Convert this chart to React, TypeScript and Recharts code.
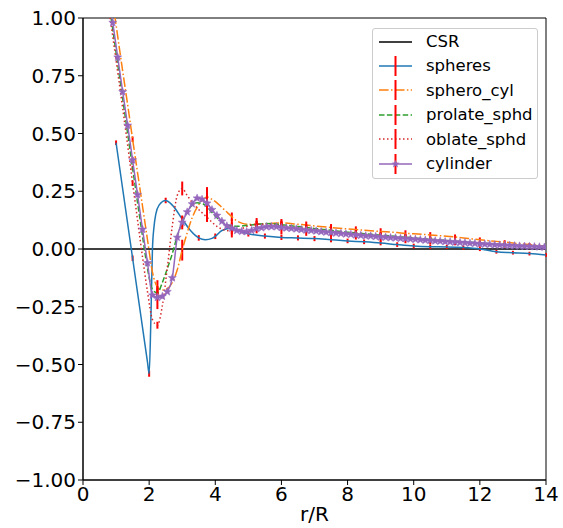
import React from "react";
import { LineChart, Line, XAxis, YAxis, ErrorBar, ReferenceArea } from "recharts";

const X_TICKS = [0, 2, 4, 6, 8, 10, 12, 14];
const Y_TICKS = [-1, -0.75, -0.5, -0.25, 0, 0.25, 0.5, 0.75, 1];

const CSR_R = [0, 14];
const CSR_V = [0, 0];

const SPHERES_R = [1.0, 1.5, 1.95, 2.0, 2.05, 2.1, 2.15, 2.2, 2.3, 2.5, 2.7, 3.0, 3.25, 3.5, 3.7, 3.9, 4.0, 4.2, 4.5, 4.75, 5.0, 5.5, 6.0, 6.5, 7.0, 7.5, 8.0, 8.5, 9.0, 9.5, 10.0, 10.5, 11.0, 11.5, 12.0, 12.5, 13.0, 13.5, 14.0];
const SPHERES_V = [0.46, -0.04, -0.49, -0.54, -0.32, 0.0, 0.1, 0.15, 0.19, 0.21, 0.19, 0.13, 0.08, 0.048, 0.04, 0.046, 0.055, 0.08, 0.09, 0.076, 0.066, 0.056, 0.05, 0.048, 0.045, 0.04, 0.035, 0.031, 0.026, 0.019, 0.013, 0.01, 0.009, 0.006, 0.0, -0.012, -0.016, -0.02, -0.026];
const SPHERES_ERR_R = [1.0, 1.5, 2.0, 2.5, 3.0, 3.5, 4.0, 4.5, 5.0, 5.5, 6.0, 6.5, 7.0, 7.5, 8.0, 8.5, 9.0, 9.5, 10.0, 10.5, 11.0, 11.5, 12.0, 12.5, 13.0, 13.5, 14.0];
const SPHERES_ERR = [0.01, 0.012, 0.013, 0.012, 0.012, 0.012, 0.012, 0.012, 0.012, 0.011, 0.011, 0.011, 0.011, 0.011, 0.01, 0.01, 0.01, 0.01, 0.01, 0.01, 0.009, 0.009, 0.009, 0.008, 0.008, 0.008, 0.008];

// error bars of the shaped-particle series (none shown at 0.75, it sits above the frame)
const ERR_R = [1.5, 2.25, 3.0, 3.75, 4.5, 5.25, 6.0, 6.75, 7.5, 8.25, 9.0, 9.75, 10.5, 11.25, 12.0, 12.75, 13.5];

const SPHCYL_R = [0.75, 0.9, 1.05, 1.2, 1.35, 1.5, 1.65, 1.8, 1.95, 2.1, 2.25, 2.4, 2.55, 2.7, 2.85, 3.0, 3.15, 3.3, 3.45, 3.6, 3.75, 3.9, 4.05, 4.2, 4.35, 4.5, 4.65, 4.8, 5.0, 5.25, 5.5, 5.75, 6.0, 6.5, 6.75, 7.0, 7.5, 8.0, 8.25, 8.5, 9.0, 9.5, 9.75, 10.0, 10.5, 11.0, 11.25, 11.5, 12.0, 12.5, 12.75, 13.0, 13.5, 13.95];
const SPHCYL_V = [1.22, 1.07, 0.92, 0.77, 0.625, 0.475, 0.33, 0.185, 0.04, -0.1, -0.165, -0.178, -0.172, -0.145, -0.09, -0.005, 0.07, 0.135, 0.18, 0.21, 0.225, 0.215, 0.2, 0.18, 0.16, 0.14, 0.122, 0.112, 0.107, 0.106, 0.109, 0.112, 0.113, 0.107, 0.104, 0.1, 0.093, 0.087, 0.084, 0.081, 0.076, 0.071, 0.068, 0.066, 0.061, 0.055, 0.052, 0.048, 0.04, 0.033, 0.03, 0.026, 0.019, 0.013];
const SPHCYL_ERR = [0.012, 0.03, 0.045, 0.03, 0.018, 0.028, 0.017, 0.015, 0.015, 0.014, 0.014, 0.013, 0.012, 0.011, 0.01, 0.008, 0.007];

const PROLATE_R = [0.75, 0.9, 1.05, 1.2, 1.35, 1.5, 1.65, 1.8, 1.95, 2.1, 2.25, 2.4, 2.55, 2.7, 2.85, 3.0, 3.15, 3.3, 3.45, 3.6, 3.75, 3.9, 4.05, 4.2, 4.35, 4.5, 4.75, 5.0, 5.25, 5.5, 5.75, 6.0, 6.5, 6.75, 7.0, 7.5, 8.0, 8.25, 8.5, 9.0, 9.5, 9.75, 10.0, 10.5, 11.0, 11.25, 11.5, 12.0, 12.5, 12.75, 13.0, 13.5, 13.95];
const PROLATE_V = [1.1, 0.95, 0.8, 0.65, 0.5, 0.35, 0.2, 0.055, -0.085, -0.175, -0.19, -0.145, -0.085, -0.02, 0.055, 0.115, 0.16, 0.19, 0.2, 0.197, 0.182, 0.158, 0.135, 0.117, 0.105, 0.099, 0.099, 0.103, 0.107, 0.11, 0.109, 0.105, 0.097, 0.093, 0.089, 0.081, 0.073, 0.07, 0.066, 0.06, 0.054, 0.051, 0.048, 0.042, 0.037, 0.034, 0.031, 0.026, 0.021, 0.019, 0.017, 0.013, 0.01];
const PROLATE_ERR = [0.01, 0.02, 0.02, 0.02, 0.015, 0.015, 0.015, 0.013, 0.012, 0.012, 0.011, 0.011, 0.01, 0.009, 0.008, 0.007, 0.006];

const OBLATE_R = [0.75, 0.9, 1.05, 1.2, 1.35, 1.5, 1.65, 1.8, 1.95, 2.1, 2.25, 2.4, 2.55, 2.7, 2.85, 3.0, 3.15, 3.3, 3.45, 3.6, 3.75, 3.9, 4.05, 4.2, 4.35, 4.5, 4.75, 5.0, 5.25, 5.5, 5.75, 6.0, 6.5, 6.75, 7.0, 7.5, 8.0, 8.25, 8.5, 9.0, 9.5, 9.75, 10.0, 10.5, 11.0, 11.25, 11.5, 12.0, 12.5, 12.75, 13.0, 13.5, 13.95];
const OBLATE_V = [1.07, 0.92, 0.765, 0.61, 0.45, 0.285, 0.125, -0.035, -0.185, -0.305, -0.33, -0.245, -0.08, 0.1, 0.232, 0.262, 0.232, 0.202, 0.178, 0.157, 0.137, 0.116, 0.098, 0.086, 0.08, 0.078, 0.085, 0.1, 0.107, 0.107, 0.104, 0.1, 0.092, 0.088, 0.084, 0.076, 0.069, 0.066, 0.062, 0.056, 0.05, 0.047, 0.044, 0.039, 0.034, 0.031, 0.029, 0.024, 0.019, 0.017, 0.015, 0.012, 0.009];
const OBLATE_ERR = [0.012, 0.015, 0.03, 0.02, 0.015, 0.015, 0.015, 0.013, 0.012, 0.012, 0.011, 0.011, 0.01, 0.009, 0.008, 0.007, 0.006];

const CYL_R = [0.75, 0.9, 1.05, 1.2, 1.35, 1.5, 1.65, 1.8, 1.95, 2.1, 2.25, 2.4, 2.55, 2.7, 2.85, 3.0, 3.15, 3.3, 3.45, 3.6, 3.75, 3.9, 4.05, 4.2, 4.35, 4.5, 4.65, 4.8, 4.95, 5.1, 5.25, 5.4, 5.55, 5.7, 5.85, 6.0, 6.15, 6.3, 6.45, 6.6, 6.75, 6.9, 7.05, 7.2, 7.35, 7.5, 7.65, 7.8, 7.95, 8.1, 8.25, 8.4, 8.55, 8.7, 8.85, 9.0, 9.15, 9.3, 9.45, 9.6, 9.75, 9.9, 10.05, 10.2, 10.35, 10.5, 10.65, 10.8, 10.95, 11.1, 11.25, 11.4, 11.55, 11.7, 11.85, 12.0, 12.15, 12.3, 12.45, 12.6, 12.75, 12.9, 13.05, 13.2, 13.35, 13.5, 13.65, 13.8, 13.95];
const CYL_V = [1.13, 0.98, 0.83, 0.68, 0.535, 0.385, 0.235, 0.085, -0.06, -0.2, -0.21, -0.205, -0.185, -0.125, 0.05, 0.115, 0.16, 0.195, 0.22, 0.215, 0.198, 0.17, 0.145, 0.12, 0.1, 0.09, 0.08, 0.076, 0.075, 0.08, 0.088, 0.092, 0.096, 0.097, 0.096, 0.093, 0.091, 0.089, 0.087, 0.084, 0.082, 0.08, 0.078, 0.075, 0.073, 0.071, 0.069, 0.067, 0.065, 0.063, 0.061, 0.059, 0.057, 0.056, 0.054, 0.052, 0.051, 0.049, 0.048, 0.046, 0.045, 0.043, 0.042, 0.04, 0.038, 0.037, 0.035, 0.034, 0.032, 0.031, 0.03, 0.028, 0.027, 0.025, 0.024, 0.022, 0.021, 0.02, 0.018, 0.017, 0.016, 0.015, 0.014, 0.013, 0.012, 0.011, 0.01, 0.009, 0.008];
const CYL_ERR = [0.012, 0.05, 0.03, 0.07, 0.04, 0.02, 0.03, 0.025, 0.022, 0.02, 0.02, 0.02, 0.016, 0.014, 0.012, 0.01, 0.008];

const BLUE = "#1f77b4";
const ORANGE = "#ff7f0e";
const GREEN = "#2ca02c";
const RED = "#d62728";
const PURPLE = "#9467bd";
const BAR = "#ff0000";

function table(rs: number[], vs: number[], errR?: number[], errs?: number[]) {
  return rs.map((r, i) => {
    const k = errR ? errR.indexOf(r) : -1;
    return { r, v: vs[i], e: k >= 0 && errs ? errs[k] : undefined };
  });
}

const csrData = table(CSR_R, CSR_V);
const spheresData = table(SPHERES_R, SPHERES_V, SPHERES_ERR_R, SPHERES_ERR);
const sphcylData = table(SPHCYL_R, SPHCYL_V, ERR_R, SPHCYL_ERR);
const prolateData = table(PROLATE_R, PROLATE_V, ERR_R, PROLATE_ERR);
const oblateData = table(OBLATE_R, OBLATE_V, ERR_R, OBLATE_ERR);
const cylData = table(CYL_R, CYL_V, ERR_R, CYL_ERR);

const FONT = "'DejaVu Sans', sans-serif";

function starPoints(cx: number, cy: number, ro: number, ri: number) {
  const pts: string[] = [];
  for (let i = 0; i < 10; i++) {
    const rad = i % 2 === 0 ? ro : ri;
    const a = -Math.PI / 2 + (i * Math.PI) / 5;
    pts.push(`${cx + rad * Math.cos(a)},${cy + rad * Math.sin(a)}`);
  }
  return pts.join(" ");
}

const StarDot = (props: any) => {
  const { cx, cy, index } = props;
  if (cx == null || cy == null) return null;
  return <polygon key={`star-${index}`} points={starPoints(cx, cy, 4.2, 1.8)} fill={PURPLE} stroke={PURPLE} strokeWidth={0.5} />;
};

const LEGEND = [
  { name: "CSR", color: "#000", dash: undefined as string | undefined, bar: false, star: false, width: 1.5 },
  { name: "spheres", color: BLUE, dash: undefined, bar: true, star: false, width: 1.5 },
  { name: "sphero_cyl", color: ORANGE, dash: "9.6 2.4 1.5 2.4", bar: true, star: false, width: 1.5 },
  { name: "prolate_sphd", color: GREEN, dash: "5.5 2.4", bar: true, star: false, width: 1.5 },
  { name: "oblate_sphd", color: RED, dash: "1.5 2.5", bar: true, star: false, width: 1.5 },
  { name: "cylinder", color: PURPLE, dash: undefined, bar: true, star: true, width: 1.5 },
];

function LegendBox() {
  return (
    <div
      style={{
        position: "absolute",
        left: 372,
        top: 28,
        width: 166,
        height: 151,
        border: "1px solid #cccccc",
        borderRadius: 3,
        background: "rgba(255,255,255,0.8)",
        fontFamily: FONT,
        fontSize: 16.5,
        boxSizing: "border-box",
      }}
    >
      {LEGEND.map((item, i) => (
        <div key={item.name} style={{ position: "absolute", left: 0, top: 0.5 + i * 24.4, height: 24, width: 166, display: "flex", alignItems: "center" }}>
          <svg width={50} height={24} style={{ flex: "none" }}>
            <line x1={6} y1={12} x2={39} y2={12} stroke={item.color} strokeWidth={item.width} strokeDasharray={item.dash} />
            {item.bar && <line x1={22.5} y1={2} x2={22.5} y2={22} stroke={BAR} strokeWidth={2} />}
            {item.star && <polygon points={starPoints(22.5, 12, 4.2, 1.8)} fill={PURPLE} />}
          </svg>
          <span style={{ marginLeft: 3, color: "#000" }}>{item.name}</span>
        </div>
      ))}
    </div>
  );
}

const fmtY = (v: number) => v.toFixed(2).replace("-", "\u2212");

export default function App() {
  return (
    <div style={{ position: "absolute", left: 0, top: 0, width: 563, height: 528, background: "#fff" }}>
      <LineChart width={563} height={528} margin={{ top: 18, right: 17, bottom: 0, left: 0 }}>
        <XAxis
          dataKey="r"
          type="number"
          domain={[0, 14]}
          ticks={X_TICKS}
          allowDataOverflow
          height={48}
          tickSize={5}
          tickMargin={2}
          stroke="#000"
          tick={{ fill: "#000", fontSize: 20, fontFamily: FONT }}
          label={{ value: "r/R", position: "insideBottom", offset: 7, fill: "#000", fontSize: 20, fontFamily: FONT }}
        />
        <YAxis
          type="number"
          domain={[-1, 1]}
          ticks={Y_TICKS}
          allowDataOverflow
          width={83}
          tickSize={5}
          tickMargin={2}
          stroke="#000"
          tickFormatter={fmtY}
          tick={{ fill: "#000", fontSize: 20, fontFamily: FONT }}
        />
        <ReferenceArea x1={0} x2={14} y1={-1} y2={1} fill="none" stroke="#000" strokeWidth={1} ifOverflow="visible" />
        <Line data={csrData} dataKey="v" stroke="#000" strokeWidth={1.5} dot={false} isAnimationActive={false} type="linear" />
        <Line data={spheresData} dataKey="v" stroke={BLUE} strokeWidth={1.5} dot={false} isAnimationActive={false} type="monotone">
          <ErrorBar dataKey="e" width={0} stroke={BAR} strokeWidth={2} direction="y" isAnimationActive={false} />
        </Line>
        <Line data={sphcylData} dataKey="v" stroke={ORANGE} strokeWidth={1.5} strokeDasharray="9.6 2.4 1.5 2.4" dot={false} isAnimationActive={false} type="monotone">
          <ErrorBar dataKey="e" width={0} stroke={BAR} strokeWidth={2} direction="y" isAnimationActive={false} />
        </Line>
        <Line data={prolateData} dataKey="v" stroke={GREEN} strokeWidth={1.5} strokeDasharray="5.5 2.4" dot={false} isAnimationActive={false} type="monotone">
          <ErrorBar dataKey="e" width={0} stroke={BAR} strokeWidth={2} direction="y" isAnimationActive={false} />
        </Line>
        <Line data={oblateData} dataKey="v" stroke={RED} strokeWidth={1.5} strokeDasharray="1.5 2.5" dot={false} isAnimationActive={false} type="monotone">
          <ErrorBar dataKey="e" width={0} stroke={BAR} strokeWidth={2} direction="y" isAnimationActive={false} />
        </Line>
        <Line data={cylData} dataKey="v" stroke={PURPLE} strokeWidth={1.5} dot={<StarDot />} activeDot={false} isAnimationActive={false} type="monotone">
          <ErrorBar dataKey="e" width={0} stroke={BAR} strokeWidth={2} direction="y" isAnimationActive={false} />
        </Line>
      </LineChart>
      <LegendBox />
    </div>
  );
}
